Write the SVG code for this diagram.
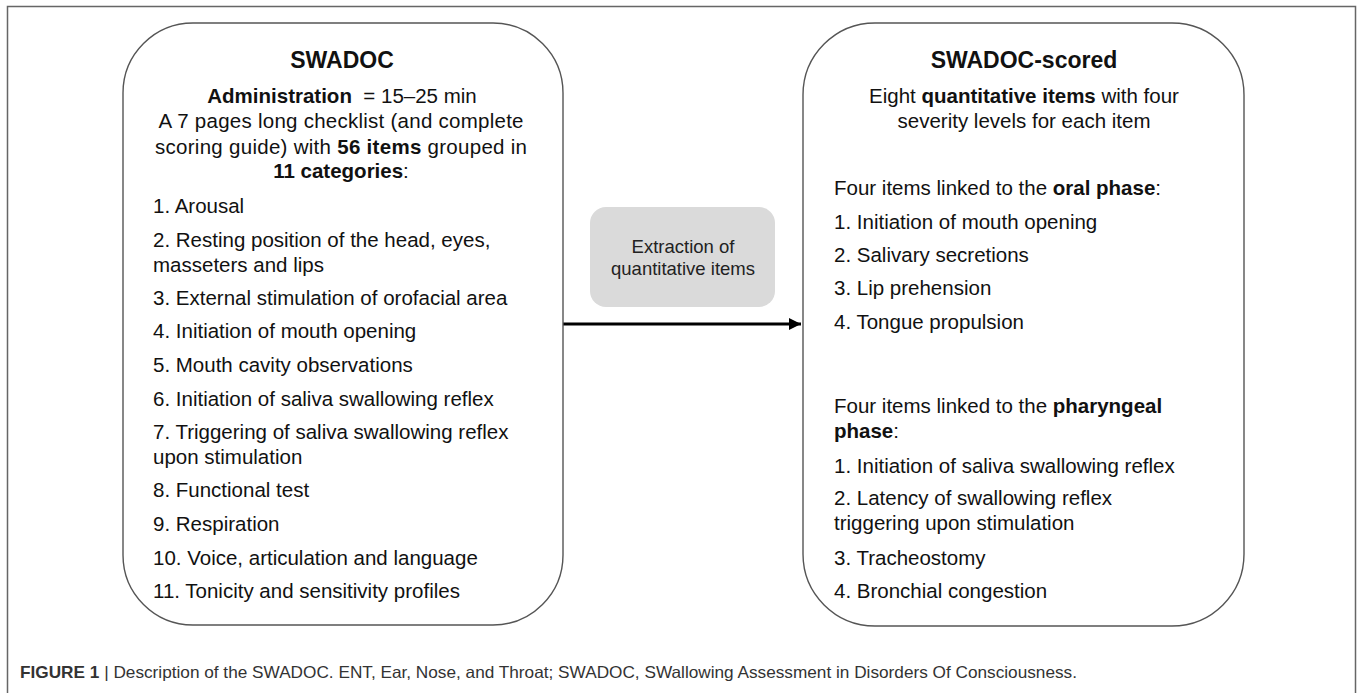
<svg xmlns="http://www.w3.org/2000/svg" width="1357" height="693" viewBox="0 0 1357 693">
<style>
  .box { fill: #ffffff; stroke: #555555; stroke-width: 1.4; }
  .mid { fill: #dadada; stroke: none; }
  .t { font-family: "Liberation Sans", Arial, sans-serif; font-size: 20.5px; fill: #111111; }
  .title { font-family: "Liberation Sans", Arial, sans-serif; font-size: 23px; font-weight: bold; fill: #111111; }
  .c { text-anchor: middle; }
  .b { font-weight: bold; }
  .m { font-family: "Liberation Sans", Arial, sans-serif; font-size: 18.5px; fill: #222222; text-anchor: middle; }
  .cap { font-family: "Liberation Sans Narrow", "Liberation Sans", Arial, sans-serif; font-size: 16.5px; fill: #333333; }
  .conn { stroke: #000000; stroke-width: 3; fill: none; }
</style>
<defs>
  <marker id="arrow" markerUnits="userSpaceOnUse" markerWidth="14" markerHeight="14" refX="12" refY="7" orient="auto">
    <path d="M0,1 L12,7 L0,13 Z" fill="#000000"/>
  </marker>
</defs>
<rect x="7.5" y="6.5" width="1348" height="700" fill="#ffffff" stroke="#666666" stroke-width="1.5"/>

<g id="connectors">
  <line class="conn" x1="563" y1="324" x2="801" y2="324" marker-end="url(#arrow)"/>
</g>

<g id="swadoc">
  <rect class="box" x="123" y="23" width="440" height="602" rx="70" ry="70"/>
  <text class="title c" x="342" y="68">SWADOC</text>
  <text class="t c" x="342" y="103"><tspan class="b">Administration</tspan>&#160; = 15–25 min</text>
  <text class="t c" x="341" y="128" textLength="365" lengthAdjust="spacing">A 7 pages long checklist (and complete</text>
  <text class="t c" x="341" y="154" textLength="372" lengthAdjust="spacing">scoring guide) with <tspan class="b">56 items</tspan> grouped in</text>
  <text class="t c" x="341" y="178"><tspan class="b">11 categories</tspan>:</text>
  <text class="t" x="153" y="213">1. Arousal</text>
  <text class="t" x="153" y="247">2. Resting position of the head, eyes,</text>
  <text class="t" x="153" y="272">masseters and lips</text>
  <text class="t" x="153" y="305">3. External stimulation of orofacial area</text>
  <text class="t" x="153" y="338">4. Initiation of mouth opening</text>
  <text class="t" x="153" y="372">5. Mouth cavity observations</text>
  <text class="t" x="153" y="406">6. Initiation of saliva swallowing reflex</text>
  <text class="t" x="153" y="439">7. Triggering of saliva swallowing reflex</text>
  <text class="t" x="153" y="464">upon stimulation</text>
  <text class="t" x="153" y="497">8. Functional test</text>
  <text class="t" x="153" y="531">9. Respiration</text>
  <text class="t" x="153" y="565">10. Voice, articulation and language</text>
  <text class="t" x="153" y="598">11. Tonicity and sensitivity profiles</text>
</g>

<g id="extraction">
  <rect class="mid" x="590" y="207" width="185" height="100" rx="16" ry="16"/>
  <text class="m" x="683" y="253">Extraction of</text>
  <text class="m" x="683" y="275">quantitative items</text>
</g>

<g id="swadoc-scored">
  <rect class="box" x="803" y="23" width="441" height="603" rx="72" ry="72"/>
  <text class="title c" x="1024" y="68">SWADOC-scored</text>
  <text class="t c" x="1024" y="103">Eight <tspan class="b">quantitative items</tspan> with four</text>
  <text class="t c" x="1024" y="128">severity levels for each item</text>
  <text class="t" x="834" y="195">Four items linked to the <tspan class="b">oral phase</tspan>:</text>
  <text class="t" x="834" y="229">1. Initiation of mouth opening</text>
  <text class="t" x="834" y="262">2. Salivary secretions</text>
  <text class="t" x="834" y="295">3. Lip prehension</text>
  <text class="t" x="834" y="329">4. Tongue propulsion</text>
  <text class="t" x="834" y="413">Four items linked to the <tspan class="b">pharyngeal</tspan></text>
  <text class="t" x="834" y="438"><tspan class="b">phase</tspan>:</text>
  <text class="t" x="834" y="473">1. Initiation of saliva swallowing reflex</text>
  <text class="t" x="834" y="505">2. Latency of swallowing reflex</text>
  <text class="t" x="834" y="530">triggering upon stimulation</text>
  <text class="t" x="834" y="565">3. Tracheostomy</text>
  <text class="t" x="834" y="598">4. Bronchial congestion</text>
</g>

<g id="caption">
  <text class="cap" x="20" y="678" textLength="1057" lengthAdjust="spacingAndGlyphs"><tspan class="b">FIGURE 1</tspan> | Description of the SWADOC. ENT, Ear, Nose, and Throat; SWADOC, SWallowing Assessment in Disorders Of Consciousness.</text>
</g>
</svg>
